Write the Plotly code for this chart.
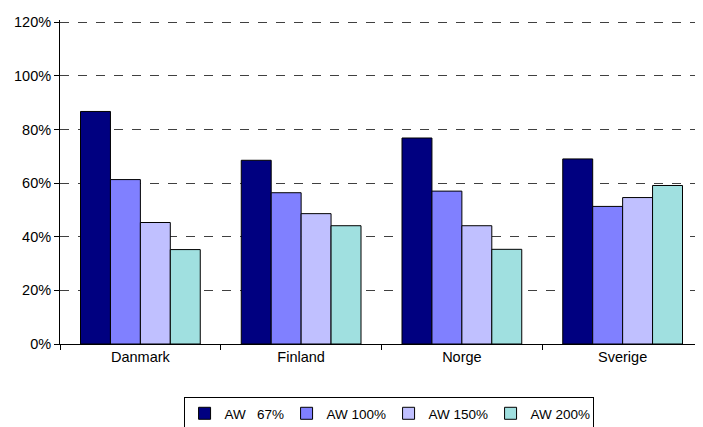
import plotly.graph_objects as go

countries = ["Danmark", "Finland", "Norge", "Sverige"]
series_names = ["AW\u00a0\u00a0\u00a067%", "AW 100%", "AW 150%", "AW 200%"]
aw_67 = [0.867, 0.685, 0.768, 0.690]
aw_100 = [0.613, 0.564, 0.570, 0.513]
aw_150 = [0.453, 0.486, 0.441, 0.546]
aw_200 = [0.352, 0.441, 0.353, 0.591]
colors = ["#000080", "#8080FF", "#C0C0FF", "#A0E0E0"]

fig = go.Figure()
for name, vals, clr in zip(series_names, [aw_67, aw_100, aw_150, aw_200], colors):
    fig.add_trace(go.Bar(x=countries, y=vals, name=name,
                         marker={'color': clr, 'line': {'color': 'black', 'width': 1}}))

# page body has an 8px margin, so margins are shifted to compensate
fig.update_layout(
    width=695, height=427,
    margin=dict(l=52, r=0, t=12, b=91),
    plot_bgcolor='white', paper_bgcolor='white',
    barmode='group', bargap=0.255, bargroupgap=0,
    font=dict(family='Liberation Sans, Arial', size=14.5, color='black'),
    legend=dict(orientation='h', x=0.511, xanchor='center', y=-0.1636, yanchor='top',
                bordercolor='black', borderwidth=1, font=dict(size=13.5),
                itemwidth=30, tracegroupgap=0, entrywidth=57, entrywidthmode='pixels'),
)
fig.update_yaxes(range=[0, 1.208], dtick=0.2, tickformat='.0%', showline=True, linecolor='black',
                 linewidth=1, ticks='outside', ticklen=5, tickcolor='black', showgrid=True,
                 gridcolor='#404040', griddash='dash', gridwidth=1, zeroline=False,
                 automargin=False)
fig.update_xaxes(showline=True, linecolor='black', linewidth=1, ticks='outside', ticklen=5,
                 tickcolor='black', tickson='boundaries', showgrid=False, automargin=False)

fig.write_html("out.html")
